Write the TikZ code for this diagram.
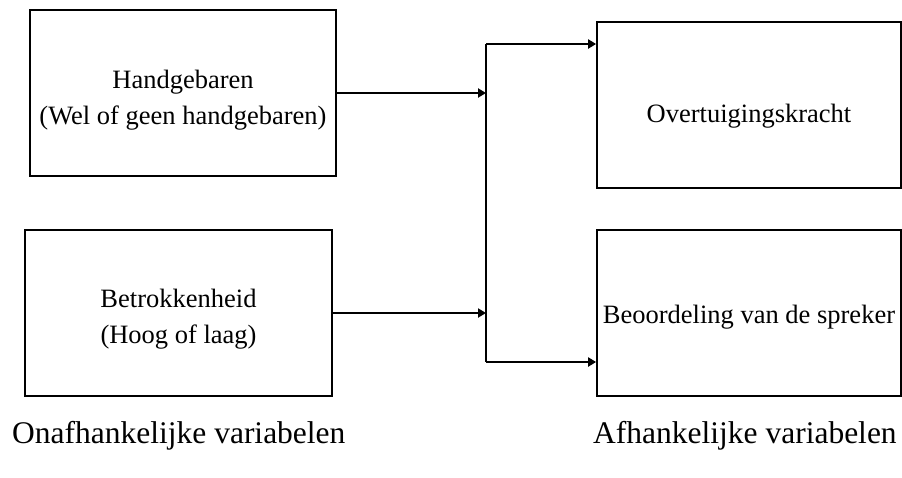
\documentclass[tikz,border=0pt]{standalone}
\usepackage{fontspec}
\setmainfont{Liberation Serif}
\usetikzlibrary{arrows.meta,positioning,calc}
\newcommand{\lift}[1]{\rule{0pt}{#1}}

\begin{document}
\begin{tikzpicture}[x=1pt,y=-1pt,>={Triangle[length=8pt,width=9pt]},
box/.style={draw,line width=1.7pt,inner sep=0pt,align=center,minimum height=166pt,
  font=\fontsize{26.5}{36}\selectfont},
conn/.style={line width=2.7pt},
caption/.style={anchor=base west,inner sep=0pt,font=\fontsize{31.5}{36}\selectfont}]
\useasboundingbox (0,0) rectangle (902,477);

% independent variables
\node[box,minimum width=306pt] (hand) at (183,93) {\lift{32pt}Handgebaren\\(Wel of geen handgebaren)};
\node[box,minimum width=307pt] (betr) at (178.5,313) {\lift{30pt}Betrokkenheid\\(Hoog of laag)};

% dependent variables
\node[box,minimum width=304pt] (overt) at (749,105) {\lift{40pt}Overtuigingskracht};
\node[box,minimum width=304pt] (beoord) at (749,313) {\lift{26pt}Beoordeling van de spreker};

% bus line
\coordinate (bustop) at (486,44);
\coordinate (busbot) at (486,362);
\draw[conn] (bustop)--(busbot);
\draw[conn,->] (hand.east)--(hand.east -| bustop);
\draw[conn,->] (betr.east)--(betr.east -| bustop);
\draw[conn,->] (bustop)--(bustop -| overt.west);
\draw[conn,->] (busbot)--(busbot -| beoord.west);

\node[caption] (onafh) at (12,443) {Onafhankelijke variabelen};
\node[caption] (afh) at (593,443) {Afhankelijke variabelen};
\end{tikzpicture}
\end{document}
